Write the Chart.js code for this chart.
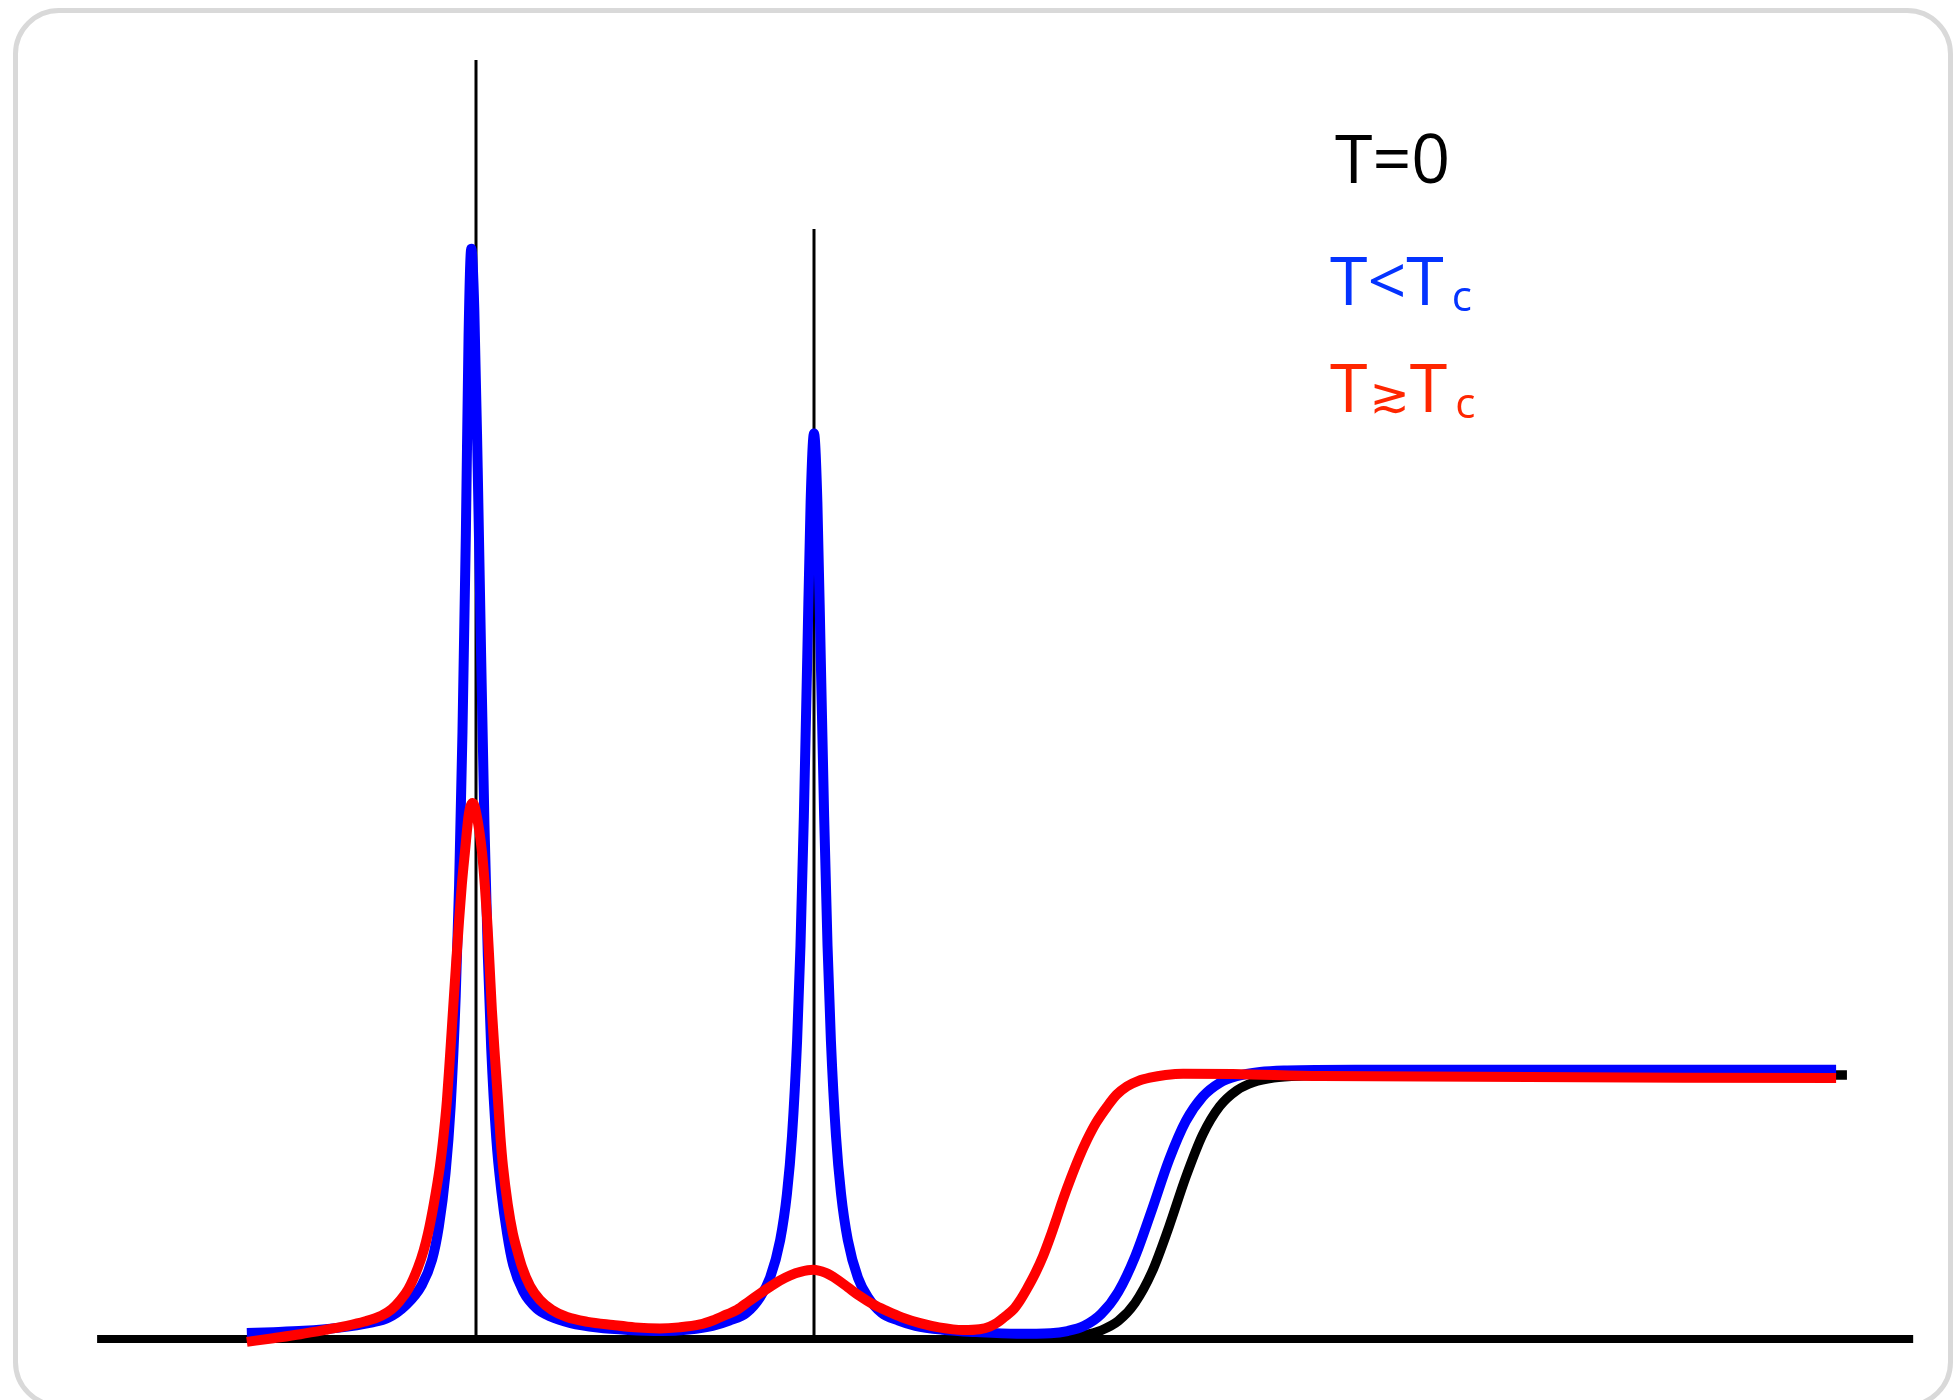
<!DOCTYPE html>
<html>
<head>
<meta charset="utf-8">
<script src="https://cdn.jsdelivr.net/npm/chart.js@4.4.0/dist/chart.umd.min.js"></script>
<style>
  html, body { margin: 0; padding: 0; background: #fff; }
  #frame {
    position: absolute; left: 13px; top: 8px; width: 1940px; height: 1400px;
    box-sizing: border-box; border: 5px solid #d9d9d9; border-radius: 46px;
  }
  #chart { position: absolute; left: 0; top: 0; }
  .lbl {
    position: absolute; font-family: "Open Sans", sans-serif; font-size: 68px;
    line-height: 1; white-space: nowrap;
  }
  .lbl sub { font-size: 42px; vertical-align: baseline; position: relative; top: 6px; margin-left: 8px; }
  .lbl .sym { font-family: "DejaVu Sans"; font-size: 48px; margin: 0 0 0 2px; }
</style>
</head>
<body>
<div id="frame"></div>
<canvas id="chart" width="1954" height="1400"></canvas>
<div class="lbl" style="left:1335px; top:123px; color:#000;">T=0</div>
<div class="lbl" style="left:1330px; top:245px; color:#0433ff;">T&lt;T<sub>c</sub></div>
<div class="lbl" style="left:1330px; top:352px; color:#ff2600;">T<span class="sym">≳</span>T<sub>c</sub></div>

<script>
// energy axis: the two bound-state energies sit at 1 and 2, continuum height ~1
var deltaX = [1, 2];
var deltaTop = [4.845, 4.205];
var axisX = [-0.121, 5.252];

// T = 0 continuum (the deltas above are the T = 0 peaks)
var zeroX = [2.74, 2.80, 2.85, 2.90, 2.95, 3.00, 3.05, 3.10, 3.15, 3.20, 3.25, 3.30, 3.36, 3.45, 3.6, 5.056];
var zeroY = [0.004, 0.015, 0.033, 0.068, 0.137, 0.254, 0.424, 0.613, 0.774, 0.881, 0.941, 0.972, 0.989, 0.997, 1.0, 1.0];

// T < Tc
var belowX = [0.322, 0.40, 0.49, 0.59, 0.69, 0.74, 0.79, 0.84, 0.87, 0.89, 0.91, 0.925, 0.94, 0.95, 0.96, 0.97, 0.978, 0.986,
    0.995, 1.005, 1.015, 1.025, 1.035, 1.045, 1.06, 1.075, 1.092, 1.11, 1.14, 1.18, 1.22, 1.28, 1.36, 1.45, 1.55,
    1.63, 1.70, 1.75, 1.80, 1.84, 1.87, 1.90, 1.92, 1.935, 1.95, 1.96, 1.97, 1.98, 1.99, 2.0,
    2.01, 2.02, 2.03, 2.04, 2.05, 2.065, 2.08, 2.10, 2.13, 2.16, 2.20, 2.25, 2.30, 2.38, 2.48, 2.60,
    2.70, 2.75, 2.80, 2.85, 2.90, 2.95, 3.00, 3.05, 3.10, 3.15, 3.20, 3.25, 3.32, 3.40, 3.6, 5.024];
var belowY = [0.023, 0.026, 0.031, 0.042, 0.062, 0.08, 0.125, 0.205, 0.30, 0.425, 0.63, 0.88, 1.30, 1.72, 2.30, 3.05, 3.80, 4.13,
    3.90, 3.30, 2.60, 1.95, 1.45, 1.10, 0.76, 0.56, 0.40, 0.28, 0.18, 0.115, 0.085, 0.06, 0.043, 0.034, 0.03,
    0.036, 0.05, 0.07, 0.099, 0.157, 0.232, 0.375, 0.55, 0.77, 1.13, 1.49, 1.98, 2.58, 3.17, 3.43,
    3.17, 2.58, 1.98, 1.49, 1.13, 0.77, 0.55, 0.375, 0.232, 0.157, 0.099, 0.07, 0.05, 0.035, 0.026, 0.02,
    0.022, 0.03, 0.05, 0.095, 0.178, 0.312, 0.49, 0.677, 0.825, 0.918, 0.97, 0.995, 1.011, 1.017, 1.02, 1.02];

// T slightly above Tc
var aboveX = [0.322, 0.40, 0.48, 0.56, 0.618, 0.67, 0.72, 0.75, 0.775, 0.80, 0.828, 0.845, 0.858, 0.875, 0.893, 0.904,
    0.914, 0.923, 0.932, 0.941, 0.950, 0.958, 0.967, 0.979, 0.99, 1.001, 1.018, 1.026, 1.033, 1.040, 1.047, 1.056,
    1.065, 1.072, 1.080, 1.094, 1.109, 1.122, 1.136, 1.16, 1.189, 1.225, 1.269, 1.33, 1.405, 1.47, 1.544, 1.60,
    1.663, 1.70, 1.74, 1.772, 1.81, 1.84, 1.87, 1.90, 1.93, 1.96, 1.997, 2.035, 2.068, 2.10, 2.136, 2.175, 2.216, 2.26,
    2.314, 2.37, 2.441, 2.49, 2.52, 2.541, 2.565, 2.59, 2.609, 2.63, 2.655, 2.678, 2.70, 2.72, 2.737, 2.76, 2.785,
    2.808, 2.835, 2.867, 2.895, 2.926, 2.96, 2.994, 3.04, 3.092, 3.24, 3.5, 5.024];
var aboveY = [-0.011, 0.003, 0.018, 0.036, 0.05, 0.066, 0.088, 0.112, 0.145, 0.19, 0.27, 0.335, 0.40, 0.51, 0.652, 0.77,
    0.905, 1.07, 1.246, 1.42, 1.587, 1.72, 1.841, 1.99, 2.03, 1.99, 1.841, 1.72, 1.587, 1.42, 1.246, 1.07,
    0.905, 0.77, 0.652, 0.51, 0.40, 0.335, 0.273, 0.20, 0.148, 0.11, 0.083, 0.065, 0.053, 0.044, 0.040, 0.044,
    0.055, 0.07, 0.092, 0.11, 0.145, 0.172, 0.198, 0.222, 0.241, 0.254, 0.262, 0.25, 0.226, 0.196, 0.162, 0.131, 0.106, 0.082,
    0.06, 0.044, 0.034, 0.037, 0.047, 0.061, 0.085, 0.112, 0.145, 0.19, 0.25, 0.315, 0.39, 0.465, 0.53, 0.61, 0.69,
    0.755, 0.82, 0.88, 0.925, 0.957, 0.978, 0.99, 1.0, 1.005, 1.004, 0.996, 0.989];

function pts(xs, ys) {
    return xs.map(function (x, i) { return { x: x, y: ys[i] }; });
}

function curve(xs, ys, color, width) {
    return {
        data: pts(xs, ys),
        borderColor: color,
        borderWidth: width,
        cubicInterpolationMode: 'monotone',
        borderCapStyle: 'butt',
        borderJoinStyle: 'round',
        pointRadius: 0,
        fill: false
    };
}

function straight(data, width) {
    return { data: data, borderColor: '#000', borderWidth: width, borderCapStyle: 'butt', pointRadius: 0, fill: false };
}

var datasets = [
    curve(aboveX, aboveY, '#ff0000', 10),
    curve(belowX, belowY, '#0000ff', 10),
    curve(zeroX, zeroY, '#000000', 9.5)
];
deltaX.forEach(function (x, i) {
    datasets.push(straight([{ x: x, y: 0 }, { x: x, y: deltaTop[i] }], 3));
});
datasets.push(straight([{ x: axisX[0], y: 0 }, { x: axisX[1], y: 0 }], 8));

new Chart(document.getElementById('chart'), {
    type: 'line',
    data: { datasets: datasets },
    options: {
        responsive: false,
        animation: false,
        events: [],
        layout: { padding: 0 },
        plugins: { legend: { display: false }, tooltip: { enabled: false } },
        scales: {
            x: { type: 'linear', display: false, min: -0.4083, max: 5.3728 },
            y: { type: 'linear', display: false, min: -0.2311, max: 5.0720 }
        }
    }
});
</script>
</body>
</html>
